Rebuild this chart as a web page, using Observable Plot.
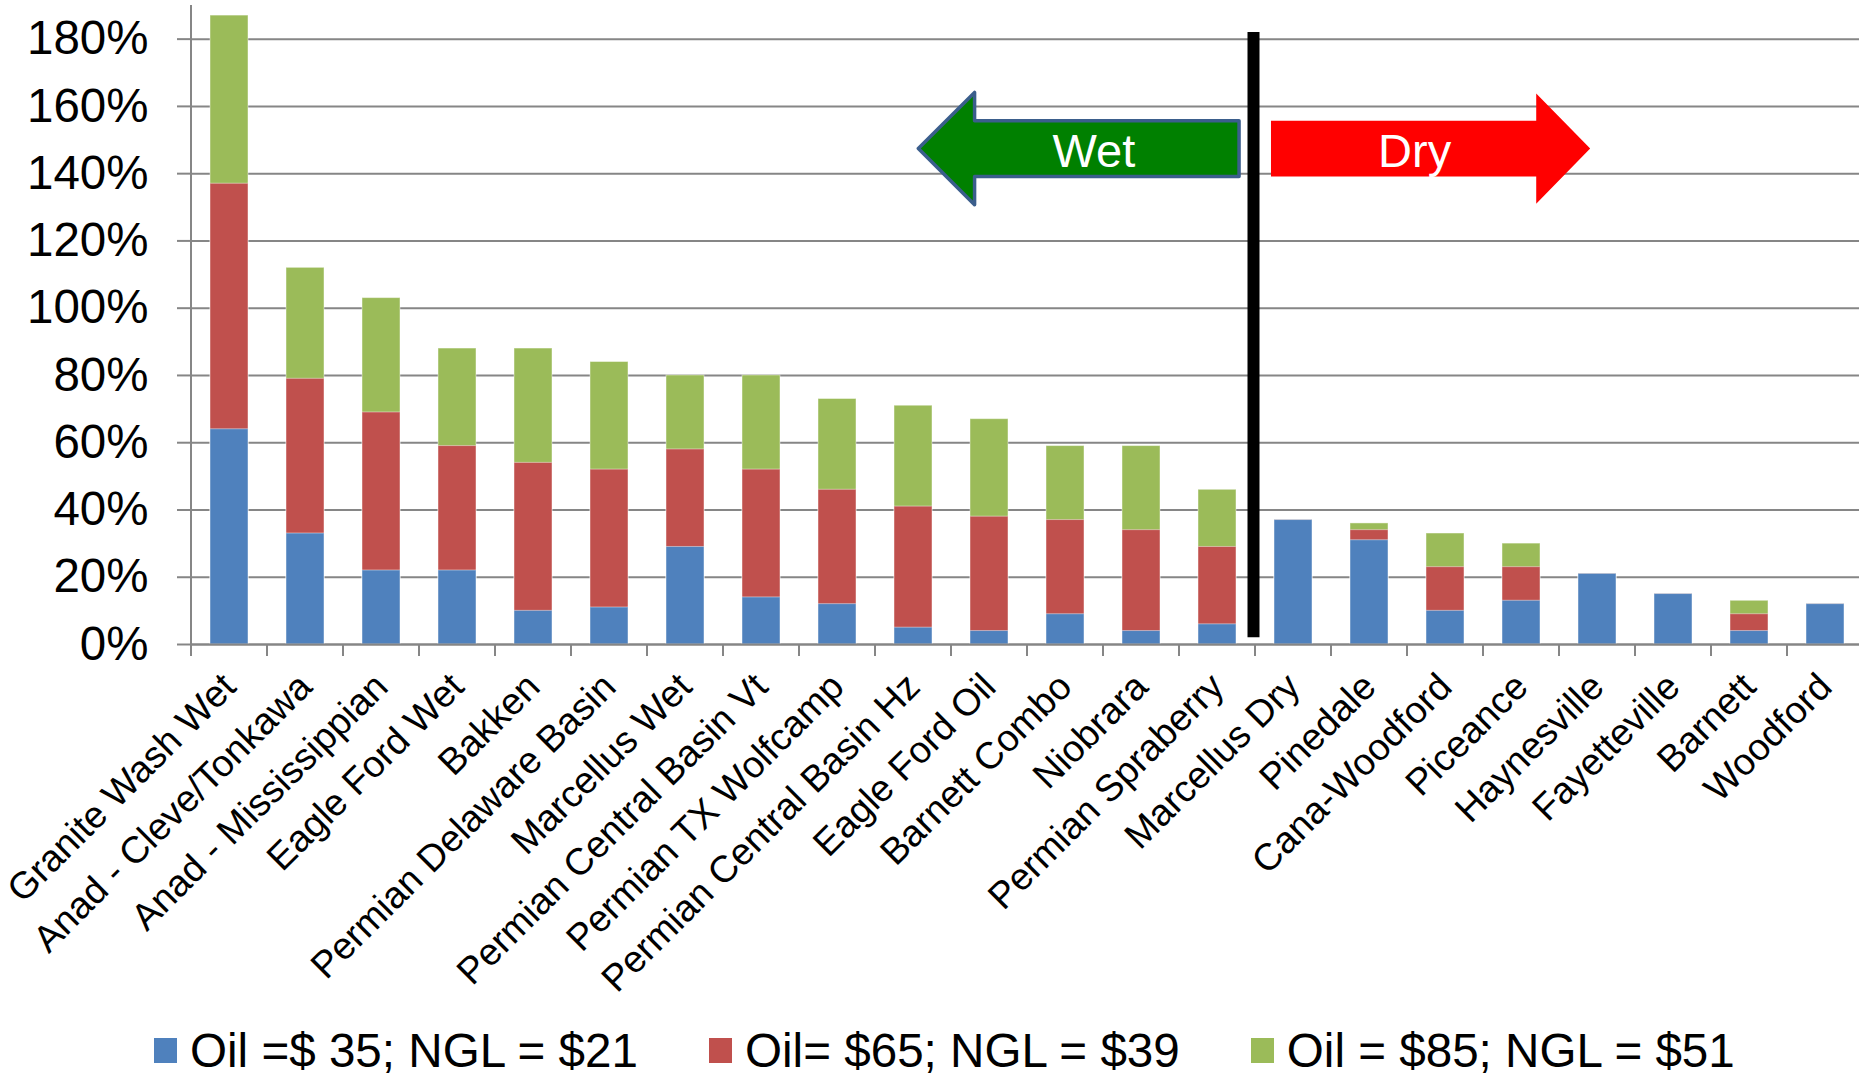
<!DOCTYPE html>
<html>
<head>
<meta charset="utf-8">
<script src="https://cdn.jsdelivr.net/npm/d3@7"></script>
<script src="https://cdn.jsdelivr.net/npm/@observablehq/plot@0.6"></script>
<style>
  html, body { margin: 0; padding: 0; background: #fff; overflow: hidden; }
  body { font-family: "Liberation Sans", Arial, sans-serif; width: 1859px; height: 1076px; }
  #legend { display: flex; align-items: center; height: 71px; padding-left: 154px; box-sizing: border-box; padding-top: 20px; }
  .item { display: flex; align-items: center; margin-right: 71px; font-size: 47.6px; color: #000; white-space: pre; }
  .sw { width: 23px; height: 25px; margin-right: 13px; }
</style>
</head>
<body>
<div id="chart"></div>
<div id="legend"></div>
<script>
// ---- data ----
const regions = [
  "Granite Wash Wet", "Anad - Cleve/Tonkawa", "Anad - Mississippian", "Eagle Ford Wet",
  "Bakken", "Permian Delaware Basin", "Marcellus Wet", "Permian Central Basin Vt",
  "Permian TX Wolfcamp", "Permian Central Basin Hz", "Eagle Ford Oil", "Barnett Combo",
  "Niobrara", "Permian Spraberry", "Marcellus Dry", "Pinedale", "Cana-Woodford",
  "Piceance", "Haynesville", "Fayetteville", "Barnett", "Woodford"
];
// IRR at each price deck
const irrOil35 = [0.64, 0.33, 0.22, 0.22, 0.10, 0.11, 0.29, 0.14, 0.12, 0.05, 0.04, 0.09, 0.04, 0.06, 0.37, 0.31, 0.10, 0.13, 0.21, 0.15, 0.04, 0.12];
const irrOil65 = [1.37, 0.79, 0.69, 0.59, 0.54, 0.52, 0.58, 0.52, 0.46, 0.41, 0.38, 0.37, 0.34, 0.29, 0.37, 0.34, 0.23, 0.23, 0.21, 0.15, 0.09, 0.12];
const irrOil85 = [1.87, 1.12, 1.03, 0.88, 0.88, 0.84, 0.80, 0.80, 0.73, 0.71, 0.67, 0.59, 0.59, 0.46, 0.37, 0.36, 0.33, 0.30, 0.21, 0.15, 0.13, 0.12];
const seriesNames = ["Oil =$ 35; NGL = $21", "Oil= $65; NGL = $39", "Oil = $85; NGL = $51"];
const seriesColors = ["#4F81BD", "#C0504D", "#9BBB59"];
const yTicks = [0, 0.2, 0.4, 0.6, 0.8, 1.0, 1.2, 1.4, 1.6, 1.8];
// annotation: wet/dry divider sits between these two regions
const lastWet = "Permian Spraberry", firstDry = "Marcellus Dry";
const wetLabel = "Wet", dryLabel = "Dry";

const rows = regions.map((r, i) => ({region: r, v35: irrOil35[i], v65: irrOil65[i], v85: irrOil85[i]}));

const grid = "#868686";
const W = 1859, H = 1005;
const barStyle = {stroke: "#fff", strokeOpacity: 0.45, strokeWidth: 1};

const plot = Plot.plot({
  width: W, height: H,
  marginLeft: 191, marginRight: -4, marginTop: 5, marginBottom: 361,
  style: {fontFamily: "'Liberation Sans', Arial, sans-serif", color: "#000", background: "#fff", overflow: "visible"},
  x: {domain: regions, paddingInner: 0.5, paddingOuter: 0.25, round: false, label: null},
  y: {domain: [0, 1.9], label: null},
  marks: [
    Plot.gridY(yTicks, {stroke: grid, strokeOpacity: 1, strokeWidth: 2}),
    Plot.barY(rows, {x: "region", y1: 0, y2: "v85", fill: seriesColors[2], ...barStyle}),
    Plot.barY(rows, {x: "region", y1: 0, y2: "v65", fill: seriesColors[1], ...barStyle}),
    Plot.barY(rows, {x: "region", y1: 0, y2: "v35", fill: seriesColors[0], ...barStyle}),
    Plot.ruleY([0], {stroke: grid, strokeWidth: 2}),
    Plot.axisY({ticks: yTicks, tickFormat: d => Math.round(d * 100) + "%", tickSize: 14, tickPadding: 29,
                fontSize: 47.5, stroke: grid, strokeWidth: 2, fill: "#000", label: null}),
    Plot.axisX({tickSize: 0, tickPadding: 36, tickRotate: -45, fontSize: 37.5, fill: "#000", label: null})
  ]
});
document.getElementById("chart").appendChild(plot);

// ---- annotations positioned through the plot's own scales ----
const xs = plot.scale("x"), ys = plot.scale("y");
const bw = xs.bandwidth;
const step = xs.apply(regions[1]) - xs.apply(regions[0]);
const gap = (step - bw) / 2;
const y0 = ys.apply(0);
const svg = d3.select(plot);
const g = svg.append("g");

// left axis line
g.append("line").attr("x1", xs.range[0]).attr("x2", xs.range[0])
  .attr("y1", ys.apply(1.9)).attr("y2", y0).attr("stroke", grid).attr("stroke-width", 2);
// category boundary ticks
const bounds = regions.map(r => xs.apply(r) - gap);
g.selectAll("line.bt").data(bounds).join("line").attr("class", "bt")
  .attr("x1", d => d).attr("x2", d => d).attr("y1", y0).attr("y2", y0 + 12)
  .attr("stroke", grid).attr("stroke-width", 2);

// divider
const xd = (xs.apply(lastWet) + bw + xs.apply(firstDry)) / 2 - 1.5;
g.append("line").attr("x1", xd).attr("x2", xd)
  .attr("y1", ys.apply(1.82)).attr("y2", ys.apply(0.02))
  .attr("stroke", "#000").attr("stroke-width", 12);

// arrows (x in steps from divider, y in value units)
const yc = ys.apply(1.473);
const sh = ys.apply(0) - ys.apply(0.083);
const hh = ys.apply(0) - ys.apply(0.167);
const wet = [[-4.41, 0], [-3.67, -hh], [-3.67, -sh], [-0.19, -sh], [-0.19, sh], [-3.67, sh], [-3.67, hh]];
const dry = [[0.23, -sh], [3.72, -sh], [3.72, -hh + 1], [4.43, 0], [3.72, hh - 1], [3.72, sh], [0.23, sh]];
const pts = a => a.map(([sx, dy]) => [xd + sx * step, yc + dy].join(",")).join(" ");
g.append("polygon").attr("points", pts(wet)).attr("fill", "#008000")
  .attr("stroke", "#3B5E8C").attr("stroke-width", 3.5).attr("stroke-linejoin", "round");
g.append("polygon").attr("points", pts(dry)).attr("fill", "#FF0000");
g.append("text").attr("x", xd - 2.1 * step).attr("y", yc + 2).attr("text-anchor", "middle")
  .attr("dominant-baseline", "central").attr("fill", "#fff").attr("font-size", 47).text(wetLabel);
g.append("text").attr("x", xd + 2.12 * step).attr("y", yc + 2).attr("text-anchor", "middle")
  .attr("dominant-baseline", "central").attr("fill", "#fff").attr("font-size", 47).text(dryLabel);

// legend
const leg = d3.select("#legend");
seriesNames.forEach((n, i) => {
  const it = leg.append("div").attr("class", "item");
  it.append("div").attr("class", "sw").style("background", seriesColors[i]);
  it.append("span").text(n);
});
</script>
</body>
</html>
